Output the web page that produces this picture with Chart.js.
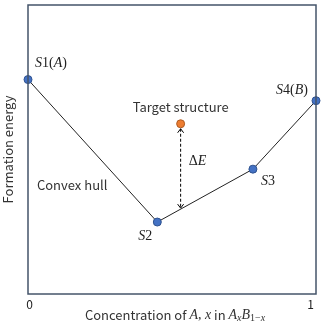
<!DOCTYPE html>
<html>
<head>
<meta charset="utf-8">
<script src="https://cdn.jsdelivr.net/npm/chart.js@4"></script>
<style>
  html, body { margin: 0; padding: 0; background: #fff; }
  #c { display: block; }
</style>
</head>
<body>
<canvas id="c" width="327" height="329"></canvas>
<script>
// convex hull points (composition x, formation energy in arbitrary units)
const hullX = [0, 0.449, 0.781, 1];
const hullY = [0.742, 0.249, 0.432, 0.669];
const hullNames = ["S1(A)", "S2", "S3", "S4(B)"];
// target structure above the hull
const targetX = [0.530];
const targetY = [0.589];
const xTicks = [0, 1];

const SANS = "'Noto Sans CJK JP', 'Noto Sans', sans-serif";
const SERIF_I = "italic 14px 'Liberation Serif', 'DejaVu Serif', serif";
const SERIF = "14px 'Liberation Serif', 'DejaVu Serif', serif";

// draw text made of pieces with different fonts
function drawRich(ctx, parts, x, y, align) {
  let w = 0;
  parts.forEach(p => { ctx.font = p[1]; w += ctx.measureText(p[0]).width; });
  let cx = x;
  if (align === "center") cx = x - w / 2;
  if (align === "right") cx = x - w;
  ctx.textAlign = "left";
  ctx.textBaseline = "middle";
  parts.forEach(p => {
    ctx.font = p[1];
    ctx.fillText(p[0], cx, y + (p[2] || 0));
    cx += ctx.measureText(p[0]).width;
  });
}

function nameParts(name) {
  // S1(A) -> S italic, 1 upright, ( upright, A italic, ) upright
  const out = [];
  for (const ch of name) {
    out.push([ch, /[A-Z]/.test(ch) ? SERIF_I : SERIF]);
  }
  return out;
}

const annotations = {
  id: "annotations",
  afterDraw(chart) {
    const ctx = chart.ctx;
    const xs = chart.scales.x, ys = chart.scales.y;
    const a = chart.chartArea;
    ctx.save();

    // frame
    ctx.strokeStyle = "#44546A";
    ctx.lineWidth = 1.5;
    ctx.strokeRect(a.left, a.top, a.right - a.left, a.bottom - a.top);

    // tick labels
    ctx.fillStyle = "#222";
    ctx.font = "12px " + SANS;
    ctx.textBaseline = "middle";
    ctx.textAlign = "center";
    xTicks.forEach((t, i) => {
      ctx.fillText(String(t), xs.getPixelForValue(t) + (i === 0 ? 1.5 : -5.5), a.bottom + 10);
    });

    // axis titles
    ctx.fillStyle = "#333";
    const it = "italic 14px 'Liberation Serif', serif";
    const sub = "italic 10px 'Liberation Serif', serif";
    const subU = "10px 'Liberation Serif', serif";
    const sans13 = "13px " + SANS;
    drawRich(ctx, [
      ["Concentration of ", sans13],
      ["A", it], [", ", SERIF], ["x", it], [" in ", sans13],
      ["A", it], ["x", sub, 3], ["B", it], ["1", subU, 3], ["\u2212", subU, 3], ["x", sub, 3]
    ], (a.left + a.right) / 2 + 3, a.bottom + 21, "center");

    ctx.save();
    ctx.translate(8, (a.top + a.bottom) / 2);
    ctx.rotate(-Math.PI / 2);
    ctx.font = sans13;
    ctx.textAlign = "center";
    ctx.textBaseline = "middle";
    ctx.fillText("Formation energy", 0, 0);
    ctx.restore();

    // dashed double arrow from target down to hull
    const tx = xs.getPixelForValue(targetX[0]);
    const ty = ys.getPixelForValue(targetY[0]);
    let hy = 0;
    for (let i = 0; i < hullX.length - 1; i++) {
      if (targetX[0] >= hullX[i] && targetX[0] <= hullX[i + 1]) {
        const f = (targetX[0] - hullX[i]) / (hullX[i + 1] - hullX[i]);
        hy = hullY[i] + f * (hullY[i + 1] - hullY[i]);
      }
    }
    const by = ys.getPixelForValue(hy);
    const y1 = ty + 5, y2 = by - 1;
    ctx.strokeStyle = "#000";
    ctx.lineWidth = 1;
    ctx.setLineDash([3, 2]);
    ctx.beginPath();
    ctx.moveTo(tx, y1); ctx.lineTo(tx, y2);
    ctx.stroke();
    ctx.setLineDash([]);
    ctx.beginPath();
    ctx.moveTo(tx - 3, y1 + 4); ctx.lineTo(tx, y1); ctx.lineTo(tx + 3, y1 + 4);
    ctx.moveTo(tx - 3, y2 - 4); ctx.lineTo(tx, y2); ctx.lineTo(tx + 3, y2 - 4);
    ctx.stroke();

    // delta E
    ctx.fillStyle = "#222";
    drawRich(ctx, [["\u0394", SERIF], ["E", SERIF_I]], tx + 8, (y1 + y2) / 2 - 7, "left");

    // point names
    const off = [[7, -16, "left"], [-12, 14, "center"], [15, 12, "center"], [-8, -10, "right"]];
    hullNames.forEach((n, i) => {
      drawRich(ctx, nameParts(n),
        xs.getPixelForValue(hullX[i]) + off[i][0],
        ys.getPixelForValue(hullY[i]) + off[i][1], off[i][2]);
    });

    // text labels
    ctx.fillStyle = "#333";
    ctx.font = sans13;
    ctx.textAlign = "center";
    ctx.textBaseline = "middle";
    ctx.fillText("Target structure", tx, ty - 17);
    ctx.textAlign = "left";
    ctx.fillText("Convex hull", xs.getPixelForValue(0.031), ys.getPixelForValue(0.378));

    ctx.restore();
  }
};

new Chart(document.getElementById("c").getContext("2d"), {
  type: "scatter",
  data: {
    datasets: [
      {
        label: "Convex hull",
        data: hullX.map((x, i) => ({ x: x, y: hullY[i] })),
        showLine: true,
        borderColor: "#222",
        borderWidth: 1,
        pointRadius: 4,
        pointBackgroundColor: "#4472C4",
        pointBorderColor: "#2F528F",
        pointBorderWidth: 1,
        clip: false,
      },
      {
        label: "Target structure",
        data: targetX.map((x, i) => ({ x: x, y: targetY[i] })),
        pointRadius: 4,
        pointBackgroundColor: "#ED7D31",
        pointBorderColor: "#AE5A21",
        pointBorderWidth: 1,
        clip: false,
      },
    ],
  },
  options: {
    responsive: false,
    animation: false,
    layout: { padding: { left: 28, right: 11, top: 5, bottom: 35 } },
    plugins: { legend: { display: false }, tooltip: { enabled: false } },
    scales: {
      x: { type: "linear", min: 0, max: 1, display: false },
      y: { type: "linear", min: 0, max: 1, display: false },
    },
  },
  plugins: [annotations],
});
</script>
</body>
</html>
